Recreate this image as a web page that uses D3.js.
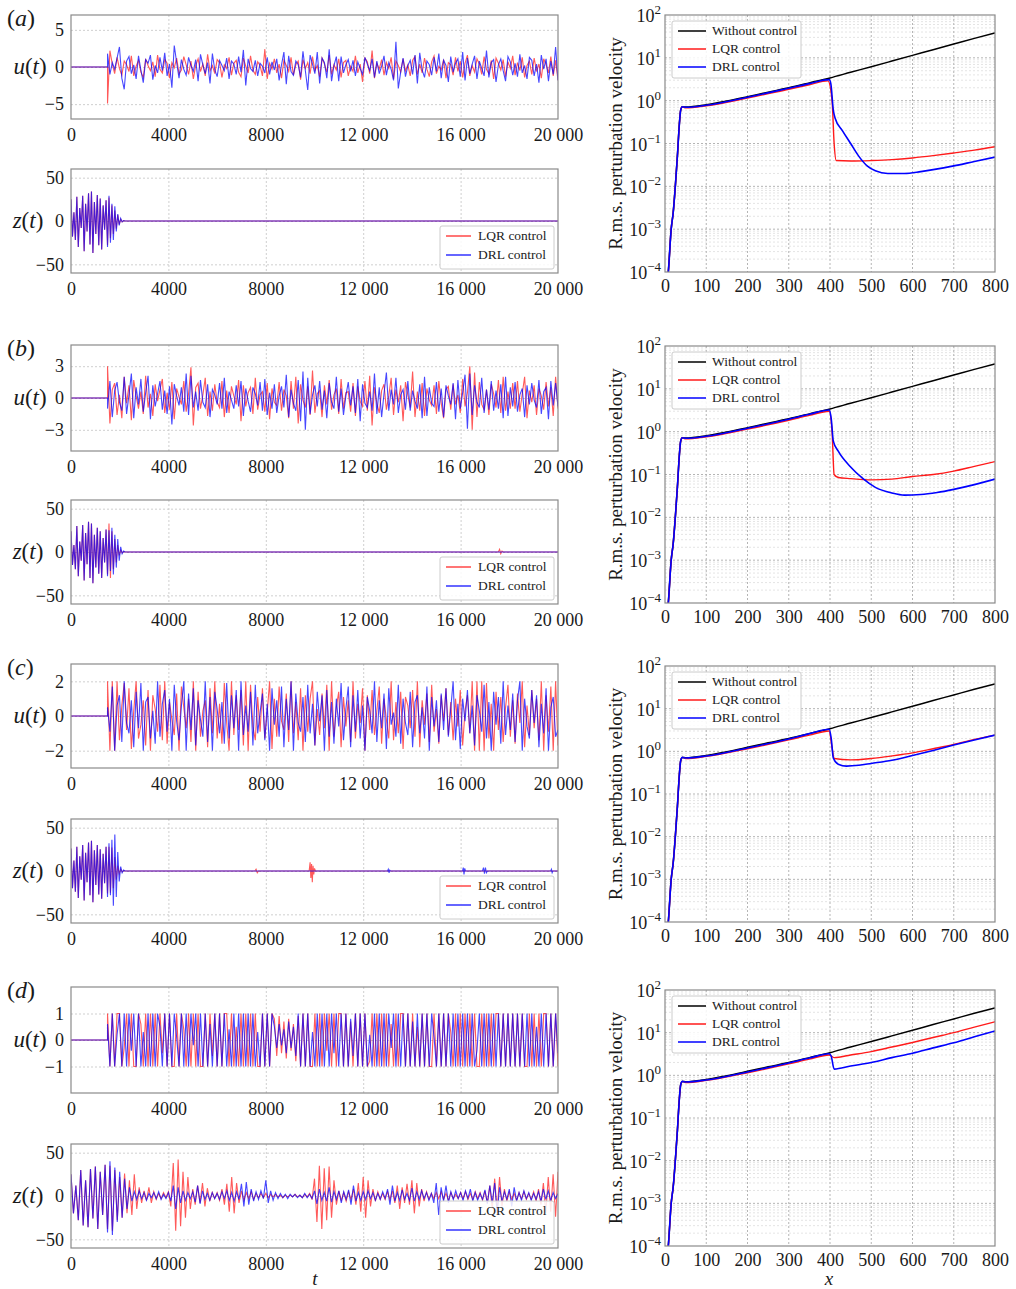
<!DOCTYPE html>
<html>
<head>
<meta charset="utf-8">
<script src="https://cdn.jsdelivr.net/npm/d3@7"></script>
<style>
  body { margin: 0; background: #fff; }
  svg { display: block; font-family: "Liberation Serif", "Times New Roman", serif; }
</style>
</head>
<body>
<svg id="fig" width="1016" height="1289"></svg>
<script>
// ---- time axis / sampling ----
const tStart = 0, tEnd = 20000, tCtrl = 1500;
const dtZ = 60, dtZd = 100;
const tTicks = [0, 4000, 8000, 12000, 16000, 20000];
const xTicks = [0, 100, 200, 300, 400, 500, 600, 700, 800];
const decades = [-4, -3, -2, -1, 0, 1, 2];
const panelNames = ['a', 'b', 'c', 'd'];
const uLimits = [7, 5, 3, 2];
const uTickVals = [[-5, 0, 5], [-3, 0, 3], [-2, 0, 2], [-1, 0, 1]];
const zLimit = 60;
const zTickVals = [-50, 0, 50];

// ---- u(t), sampled from t = 1500 to 20000 (190 samples) ----
const uLqrA = [-4.9,2.2,0.4,-0.9,1.3,-0.2,-1.1,0.8,0.3,-0.6,1.5,-1.2,0.1,0.9,-0.7,-1.4,1.1,0.2,-0.5,
 0.7,-1.3,1.6,-0.3,-0.8,1.0,0.5,-1.5,0.6,-0.1,1.2,-0.9,-0.4,1.4,0.3,-1.0,0.8,-1.6,0.2,
 1.1,-0.6,0.4,-1.2,1.7,-0.5,0.2,-0.9,1.0,0.6,-1.4,0.3,-0.2,1.3,-1.1,0.5,0.9,-0.7,-1.3,
 1.2,0.1,-0.8,1.5,-0.4,-1.0,0.7,0.2,-1.2,2.4,-1.6,0.5,-0.3,1.1,-0.8,0.4,-1.5,0.9,0.2,
 -0.6,1.3,-1.1,0.3,0.8,-1.7,1.0,-0.2,0.6,-0.9,1.4,-0.5,0.2,-1.3,1.2,0.4,-0.7,1.6,-1.0,
 0.3,-0.4,1.1,-1.4,0.6,0.9,-1.2,0.1,-0.6,1.5,-0.8,0.4,-2.0,1.2,0.7,-0.9,2.2,-1.5,0.5,
 -0.3,1.0,-1.1,0.6,-0.2,1.3,-1.6,0.8,0.2,-0.7,1.1,-0.5,0.3,-1.2,0.9,1.4,-1.0,0.4,-0.8,
 1.2,-0.3,-1.3,0.7,1.5,-0.9,0.1,-0.4,1.0,-1.5,0.6,0.3,-1.1,1.3,-0.6,0.8,-1.4,0.5,1.6,
 -1.2,0.2,-0.7,1.1,0.4,-1.0,1.4,-0.3,-0.9,0.9,-1.6,1.2,0.5,-0.4,1.0,-1.3,0.7,-0.2,1.5,
 -1.1,0.6,-0.5,1.3,-1.4,0.2,0.8,-1.0,1.2,-0.6,0.4,-1.5,1.1,0.3,-0.8,1.4,-1.2,0.9,-1.8];
const uDrlA = [1.8,-1.0,0.6,-0.3,1.2,2.7,-1.5,-3.0,0.8,1.4,-0.9,0.3,-1.6,1.5,-0.4,-2.1,1.0,0.5,1.6,
 -1.7,0.2,-0.8,1.3,-0.5,1.9,-1.2,0.4,-2.8,2.9,0.6,-1.5,1.0,-0.3,-1.1,1.3,0.2,-0.6,1.0,
 -1.9,1.7,0.3,-0.9,0.6,-2.2,1.8,-0.4,-1.3,0.9,0.2,-0.5,1.2,-1.6,0.8,0.4,-1.0,1.4,-0.7,
 2.3,-2.5,1.1,-0.2,-0.6,0.9,-1.2,0.5,0.1,-0.8,1.3,-1.0,0.7,-0.4,1.1,-1.8,0.3,2.0,-2.3,
 1.5,-0.6,-1.1,0.8,0.3,-1.4,2.1,-0.5,-3.1,1.6,0.4,-0.9,2.0,-2.2,1.2,0.6,-1.5,2.4,-1.9,
 0.2,1.4,-1.9,1.4,-0.8,0.3,1.0,-0.6,0.9,-1.2,0.7,-0.2,-1.0,1.3,0.4,-0.5,1.1,-1.4,0.8,
 -0.9,0.1,1.5,-1.1,0.6,-0.3,-1.8,3.4,-2.9,-0.7,1.2,-1.3,0.2,0.9,-1.0,1.6,-2.2,1.9,-0.4,
 -1.4,0.8,0.3,-1.1,1.3,-0.6,1.8,-1.5,0.9,0.2,-2.0,1.4,-0.7,0.5,1.1,-1.3,2.0,-1.8,1.2,
 -0.9,0.4,1.5,-1.6,0.8,-0.2,-1.2,2.2,-1.4,0.6,1.0,-2.0,0.3,1.1,-0.5,-1.9,1.4,0.7,-1.1,
 0.5,-1.3,1.7,-0.8,0.2,-1.6,1.3,0.9,-1.2,0.4,-2.1,1.6,-0.3,1.1,-1.9,0.8,-1.0,2.7,-1.8];
const uLqrB = [3.0,-2.4,0.8,1.4,-1.6,0.3,-1.9,2.0,-0.5,1.2,-2.1,1.7,0.2,-1.0,0.6,-1.5,2.1,-0.9,0.4,
 -1.7,1.3,-0.3,0.8,1.8,-1.4,0.5,-1.1,1.5,-2.0,0.9,0.1,-0.6,1.6,-1.3,0.4,2.9,-2.6,1.0,
 1.4,-1.0,0.3,1.9,-1.7,0.6,-1.2,1.3,-0.4,-0.9,1.6,-1.8,0.7,-1.4,1.1,0.2,-0.6,1.7,-2.2,
 1.2,-0.8,0.5,1.0,-1.5,1.9,-1.1,0.3,0.6,-1.3,1.4,-2.0,0.9,-0.4,-0.7,1.5,-1.2,0.8,0.2,
 -1.9,1.6,-1.0,2.0,-2.4,1.3,-0.2,-0.9,1.1,-1.6,2.6,-1.4,0.4,0.7,-1.8,1.2,-0.6,1.7,-1.1,
 0.3,0.9,-1.5,1.8,-1.0,0.5,0.6,-1.3,1.4,-1.7,1.1,-0.3,-0.8,1.6,-1.2,2.1,-2.6,1.0,-0.5,
 -1.4,0.7,1.3,-1.1,0.2,1.9,-1.6,0.8,-0.4,1.2,-2.2,1.5,0.3,-0.9,2.5,-1.8,0.6,-1.2,1.4,
 -1.7,0.9,-0.2,-0.7,1.2,-1.5,1.6,-0.5,-1.9,0.8,1.1,-1.1,1.3,-0.6,0.3,-1.4,1.8,-0.8,0.5,
 3.0,-3.0,2.4,-1.8,1.5,-0.6,-1.1,0.8,-1.6,1.3,0.4,-0.9,1.7,-1.4,2.0,-1.2,0.6,-1.0,1.4,
 -1.0,1.6,-1.3,0.4,2.0,-1.9,0.7,-0.4,1.2,-1.6,0.9,0.2,-1.1,1.5,-0.8,1.0,-1.7,2.0,-1.0];
const uDrlB = [-1.0,1.6,-1.8,0.7,1.5,-0.4,-1.2,2.0,-1.5,0.3,2.3,-1.9,1.0,-0.6,1.8,-1.3,0.5,2.1,-2.0,
 1.2,-0.8,0.4,1.6,-1.1,0.7,-1.5,1.1,-2.5,1.3,0.2,-0.7,1.0,-1.3,2.3,-1.6,2.1,-0.9,0.6,
 -1.2,1.7,-0.4,-0.9,1.3,-1.8,0.8,0.3,-0.6,1.4,-1.0,1.9,-1.4,0.6,-0.2,-1.0,1.2,-0.8,1.6,
 -1.7,0.9,-0.3,-1.3,1.0,0.4,-0.7,1.5,-1.2,1.8,-1.6,0.5,-1.0,1.3,-1.4,0.2,1.1,-0.9,2.2,
 -1.8,0.8,-0.5,-1.2,1.7,-2.2,2.5,-3.0,1.9,-1.5,0.3,1.2,-0.8,1.6,-1.1,0.7,-1.9,1.4,-0.4,
 -1.0,2.0,-1.3,0.9,-1.6,0.2,1.5,-0.7,1.1,-1.4,1.8,-2.2,1.3,-0.5,-0.9,0.6,-1.2,2.3,-1.5,
 1.0,-1.8,0.4,2.4,-1.2,0.8,-0.6,1.9,-1.4,0.3,0.8,-1.1,1.6,-1.2,0.7,-0.3,-1.0,1.3,-1.9,
 2.0,-1.7,1.0,-0.5,-0.8,1.5,-1.3,0.9,-1.8,1.2,0.2,-0.6,1.4,-2.0,1.7,-1.0,0.5,2.2,-2.9,
 2.3,-1.6,1.2,-0.4,-0.9,1.9,-1.4,0.8,-1.1,1.6,-1.2,0.7,-1.0,1.3,-1.9,2.0,-1.7,1.0,-0.8,
 1.5,-1.3,0.3,0.9,-1.8,1.2,-0.6,1.4,-0.2,-0.9,1.7,-1.5,0.6,1.0,-2.0,1.6,-0.7,1.4,-0.8];
const uLqrC = [2.0,-2.0,2.0,-2.0,2.0,-1.4,0.6,1.9,-0.8,1.6,-1.9,0.3,2.0,-1.3,-0.5,0.9,-1.7,1.5,-2.0,
 1.2,0.4,-0.9,1.8,-1.4,2.0,-1.6,0.8,-0.2,-1.1,1.3,-2.0,1.7,0.5,-0.7,1.0,-1.5,2.0,-2.0,
 1.4,-1.2,0.3,0.9,-1.8,1.6,-1.0,2.0,-1.3,0.7,-1.6,1.9,-0.4,-2.0,2.0,-1.1,1.2,-0.8,1.5,
 -1.7,2.0,-2.0,1.8,-0.6,-1.4,1.1,-0.9,1.6,-1.3,0.2,2.0,-1.9,1.0,-1.2,1.7,-0.3,-0.8,1.3,
 -1.5,2.0,-1.0,0.8,-1.4,1.6,-2.0,1.2,-0.9,1.0,2.0,-1.7,0.4,-1.1,1.3,-0.7,1.8,-2.0,2.0,
 -1.2,0.5,1.4,-1.8,1.1,-0.6,0.9,-1.5,2.0,-1.3,0.7,-0.4,1.6,-2.0,1.2,-0.8,1.5,-1.1,0.3,
 1.7,-1.6,1.0,-0.2,-1.3,2.0,-1.4,0.8,-1.0,1.4,-1.9,1.1,0.6,-0.7,1.5,-1.2,2.0,-1.8,0.9,
 -0.5,1.3,-1.5,1.8,-0.9,0.4,-1.6,1.2,-0.3,1.6,-1.1,0.8,-1.4,1.0,-0.6,1.5,-1.7,0.3,1.2,
 -1.0,2.0,-2.0,2.0,-2.0,2.0,-2.0,1.9,-1.3,0.7,-2.0,1.4,-0.8,1.1,-1.5,0.5,1.8,-1.2,0.9,
 -1.6,1.3,-0.4,2.0,-1.8,0.6,-1.1,1.5,-0.7,1.0,-1.4,2.0,-2.0,1.2,-0.9,1.7,-2.0,2.0,-1.7];
const uDrlC = [0.5,-0.9,1.7,-2.0,0.6,1.2,-1.5,2.0,-0.4,-1.0,0.9,-1.8,1.4,-0.7,1.9,-2.0,0.8,1.1,-1.3,
 0.3,-1.6,2.0,-1.2,0.7,1.5,-0.9,1.0,-2.0,1.8,-0.3,-1.4,0.6,2.0,-2.0,1.3,-0.8,1.6,-1.7,
 0.9,-0.2,-1.2,2.0,-1.5,1.1,-2.0,1.4,0.4,-1.0,0.8,-1.6,1.9,-1.3,1.2,-0.7,1.5,-2.0,2.0,
 -1.1,0.6,-0.9,1.4,-1.7,1.8,-1.0,0.2,1.3,-1.4,0.7,-2.0,1.6,-0.5,0.9,-1.2,1.7,-1.8,1.0,
 -0.8,2.0,-2.0,1.3,-0.4,-0.9,1.1,-1.5,1.8,-1.0,0.7,-1.7,1.4,-0.3,1.2,-2.0,1.5,-1.2,0.8,
 -1.6,1.0,-0.6,1.9,-1.4,0.4,1.7,-1.8,1.2,-0.9,1.5,-1.3,0.6,-2.0,1.1,0.3,-1.0,2.0,-1.5,
 0.9,-0.7,1.3,-1.9,1.6,-0.5,0.2,-1.2,1.8,-1.6,1.0,-0.4,-1.1,1.4,-1.8,0.8,1.2,-1.0,0.5,
 -1.3,1.7,-2.0,1.1,-0.6,0.9,-1.5,1.3,-0.8,1.6,-1.2,0.4,2.0,-1.4,0.7,-1.9,1.0,-0.3,1.5,
 -1.0,0.6,-1.7,1.2,0.3,-0.9,1.8,-1.3,0.8,-2.0,1.4,-0.5,1.1,-1.6,2.0,-1.1,0.6,-0.8,1.3,
 -1.5,0.9,2.0,-2.0,1.0,-0.6,-1.3,1.5,-0.4,1.2,-1.8,0.7,-1.0,1.6,-2.0,0.5,1.1,-1.2,-0.8];
const uLqrD = [1,-1,1,-1,1,1,-1,-0.3,1,-1,1,-1,-1,1,0.6,-1,1,-1,1,
 -1,1,-1,1,-0.5,1,-1,1,-1,-1,1,-1,1,0.4,-1,1,-1,1,-1,
 1,-1,-1,1,-1,1,-0.6,1,-1,1,-1,1,1,-1,1,-1,0.5,-1,1,
 -1,1,-1,1,-1,1,-1,-1,1,-1,1,-1,1,0.8,-0.6,0.9,-0.5,0.7,-0.7,
 0.8,-0.4,0.6,-0.8,0.9,-1,1,-1,1,-1,-1,1,-1,1,-1,1,-0.4,1,-1,
 1,-1,1,1,-1,1,-1,0.7,-1,1,-1,1,-1,1,-1,-0.8,1,-1,1,
 -1,1,-1,1,-1,0.6,-1,1,-1,1,1,-1,1,-1,1,-1,0.5,-1,1,
 -1,1,-1,-1,1,-1,1,-1,1,-1,1,0.3,-1,1,-1,1,-1,1,-1,
 1,-1,1,-1,-1,1,-1,1,-1,1,-1,1,1,-1,1,-1,1,-1,1,
 -1,1,-1,1,-1,-1,1,-1,1,-1,1,-1,1,1,-1,1,-1,1,-1];
const uDrlD = [0.6,-1,1,-1,0.2,1,-1,1,-1,1,-0.4,1,-1,1,-1,0.3,-1,1,-1,
 1,-1,1,0.5,-1,1,-1,1,-1,1,0.1,-1,1,-1,1,-1,1,-0.2,1,
 -1,1,-1,1,-1,0.6,-1,1,-1,1,-1,1,-1,0.4,-1,1,-1,1,-1,
 1,-1,1,-1,1,-1,0.3,-1,1,-1,1,-1,1,0.5,-0.3,0.6,-0.2,0.4,-0.5,
 0.7,-0.3,0.5,-0.6,1,-1,1,-1,1,-1,0.3,-1,1,-1,1,-1,1,-1,1,
 -0.5,1,-1,1,-1,1,-1,0.8,-0.6,1,-1,1,-1,1,-1,0.2,-1,1,-1,
 1,-1,1,-1,1,-0.3,1,-1,1,-1,1,-1,1,-1,0.7,-1,1,-1,1,
 -1,1,-1,1,0.1,-1,1,-1,1,-1,1,-1,1,-1,1,-1,1,-1,1,
 -1,1,-1,-0.4,1,-1,1,-1,1,-1,1,-1,1,-1,1,-1,1,-1,1,
 -1,1,-1,1,-1,1,-1,1,-1,0.5,-1,1,-1,1,-1,1,-1,1,-0.5];

// ---- z(t), panels a-c: before control (t = 0..1440, dt 60), after control (t = 1500..2400), later bursts [t, z] ----
const zPreA = [25,-18,10,-22,28,-30,15,-8,29,-35,20,-12,32,-27,34,-37,22,-15,30,-28,26,-33,18,-10,24];
const zLqrA = [-28,27,-20,18,-15,12,-9,7,-4,2,-1,0.5,0,0,0,0];
const zDrlA = [-30,29,-25,20,-22,17,-12,8,-5,3,-1,0.5,0,0,0,0];
const zPreB = [24,-15,8,-20,30,-28,12,-10,31,-33,22,-14,35,-30,33,-36,20,-18,28,-25,24,-30,16,-12,26];
const zLqrB = [-26,33,-30,24,-20,15,-12,8,-4,2,-1,0.5,0,0,0,0];
const zDrlB = [-28,25,-22,28,-26,20,-18,15,-10,6,-2,1,0,0,0,0];
const zPreC = [26,-20,12,-24,28,-31,17,-10,30,-34,21,-13,33,-28,35,-36,24,-16,30,-27,25,-32,20,-14,28];
const zLqrC = [-26,28,-25,27,-20,16,-10,6,-3,2,-1,0.5,0,0,0,0];
const zDrlC = [-30,32,-28,36,-40,42,-30,22,-12,5,-2,1,0,0,0,0];
const burstLqrB = [[17550,0],[17600,3],[17650,-2],[17700,1],[17750,0]];
const burstDrlB = [];
const burstLqrC = [[7550,0],[7600,2],[7650,-2],[7700,0],[9780,0],[9820,10],[9850,-8],[9880,8],[9910,-13],
 [9940,6],[9970,-4],[10000,3],[10040,0]];
const burstDrlC = [[13000,0],[13030,2],[13060,-2],[13090,1],[13120,0],[16080,0],[16110,4],[16140,-4],[16170,3],
 [16200,0],[16900,0],[16940,4],[16980,-3],[17020,4],[17060,-2],[17100,0],[19700,0],[19730,2],[19760,-2],[19790,0]];

// ---- z(t), panel d: t = 0..20000, dt 100 ----
const zLqrD = [25,-20,12,-28,30,-34,18,-36,31,-26,34,-38,28,-22,36,
 -38,35,-40,30,-28,22,-25,26,-20,18,
 -22,25,-15,10,-8,6,-5,10,-8,5,-4,3,-3,4,-2,
 5,-12,38,-40,42,-35,28,-25,22,-15,
 8,-10,12,-8,15,-12,9,-6,4,-3,
 4,-5,8,-10,14,-18,22,-20,15,-8,
 6,-5,4,-3,5,-4,3,-2,3,-2,
 3,-2,2,-1,2,-1,1,-2,1,-1,
 1,-1,2,-1,1,-2,2,-1,3,-4,
 20,-30,35,-38,32,-28,34,-25,18,-10,
 6,-5,4,-6,5,-4,8,-10,15,-18,
 22,-25,18,-12,8,-6,5,-4,3,-4,
 5,-4,6,-8,12,-15,10,-8,14,-10,
 18,-20,15,-12,8,-6,5,-4,3,-3,
 4,-3,5,-4,3,-5,4,-3,2,-3,
 4,-3,5,-4,3,-4,5,-3,4,-5,
 6,-8,12,-15,20,-18,22,-12,8,-6,
 5,-4,3,-5,4,-3,5,-4,3,-4,
 5,-6,8,-10,15,-20,22,-18,25,-24,28];
const zDrlD = [25,-20,12,-28,30,-34,18,-36,31,-26,34,-38,28,-22,36,
 -42,40,-45,33,-30,28,-25,20,-15,10,
 -6,5,-4,6,-3,4,-5,3,-2,4,-3,5,-4,2,-3,
 4,-6,12,-15,10,-8,6,-5,4,-3,
 5,-7,12,-9,6,-4,3,-5,4,-3,
 3,-4,5,-3,6,-5,4,-6,5,-4,
 14,-12,16,-10,8,-6,5,-4,6,-3,
 18,-8,6,-5,4,-3,3,-2,2,-3,
 2,-1,2,-2,1,-2,3,-2,2,-3,
 6,-9,8,-5,4,-6,10,-7,5,-4,
 6,-8,5,-4,7,-10,12,-6,4,-5,
 5,-4,6,-3,4,-5,3,-4,5,-3,
 8,-10,12,-6,4,-5,7,-4,3,-5,
 9,-6,5,-4,6,-3,4,-5,3,-8,
 15,-22,10,-6,12,-8,5,-4,6,-3,
 4,-5,6,-3,8,-6,4,-5,3,-4,
 7,-9,12,-8,15,-20,10,-6,5,-4,
 8,-12,10,-6,4,-5,6,-3,4,-5,
 3,-4,5,-6,8,-4,6,-5,4,-3,3];

// ---- r.m.s. perturbation velocity [x, value] ----
const rmsRise = [[0,1e-5],[5,5e-5],[8,1e-4],[15,1e-3],[20,2.5e-3],[25,1e-2],[30,5e-2],[35,0.3],[38,0.6],[42,0.72]];
const rmsNoCtrl = [[50,0.71],[100,0.80],[150,0.98],[200,1.24],[250,1.58],[300,2.0],[350,2.6],[400,3.4],[450,4.6],
 [500,6.2],[550,8.4],[600,11.4],[650,15.5],[700,21],[750,28.5],[800,38]];
const rmsLqrA = [[50,0.68],[100,0.76],[200,1.15],[300,1.85],[350,2.35],[395,2.9],[405,1.0],[410,0.1],[415,0.04],
 [450,0.039],[500,0.04],[550,0.042],[600,0.046],[650,0.052],[700,0.06],[750,0.07],[800,0.084]];
const rmsDrlA = [[50,0.70],[100,0.78],[200,1.2],[300,1.95],[350,2.5],[398,3.1],[402,2.5],[408,0.6],[412,0.4],
 [430,0.2],[450,0.1],[470,0.05],[490,0.03],[510,0.023],[540,0.02],[580,0.02],[620,0.022],[700,0.03],[750,0.038],[800,0.048]];
const rmsLqrB = [[50,0.68],[100,0.76],[200,1.15],[300,1.85],[350,2.4],[398,3.0],[405,1.0],[410,0.1],[420,0.085],
 [450,0.08],[500,0.075],[550,0.078],[600,0.09],[650,0.1],[700,0.12],[750,0.155],[800,0.2]];
const rmsDrlB = [[50,0.70],[100,0.78],[200,1.2],[300,1.95],[350,2.55],[398,3.2],[403,2.0],[408,0.6],[420,0.35],
 [450,0.15],[480,0.08],[510,0.05],[550,0.037],[580,0.033],[620,0.034],[660,0.038],[700,0.045],[750,0.058],[800,0.078]];
const rmsLqrC = [[50,0.68],[100,0.76],[200,1.15],[300,1.85],[350,2.4],[398,3.0],[405,1.2],[410,0.68],[450,0.63],
 [500,0.68],[550,0.78],[600,0.92],[650,1.15],[700,1.45],[750,1.9],[800,2.4]];
const rmsDrlC = [[50,0.70],[100,0.78],[200,1.2],[300,1.95],[350,2.6],[398,3.3],[403,2.0],[408,0.7],[420,0.5],
 [440,0.45],[470,0.47],[500,0.52],[550,0.62],[600,0.8],[650,1.05],[700,1.4],[750,1.85],[800,2.4]];
const rmsLqrD = [[50,0.68],[100,0.76],[200,1.15],[300,1.85],[350,2.4],[398,3.0],[410,2.6],[450,3.0],[500,3.6],
 [550,4.6],[600,5.9],[650,7.7],[700,10],[750,13.5],[800,18]];
const rmsDrlD = [[50,0.70],[100,0.78],[200,1.2],[300,1.95],[350,2.55],[398,3.2],[403,2.8],[410,1.4],[450,1.65],
 [500,2.0],[550,2.6],[600,3.3],[650,4.4],[700,5.8],[750,8],[800,11]];

// ---- layout ----
const LX0 = 71, LX1 = 558, RX0 = 665, RX1 = 995;
const rows = [
  { u: [15, 119], z: [169, 273], r: [15, 272] },
  { u: [345, 451], z: [500, 604], r: [346, 603] },
  { u: [664, 768], z: [819, 923], r: [666, 922] },
  { u: [987, 1093], z: [1144, 1248], r: [990, 1246] }
];
const RED = '#ff1a1a', BLUE = '#0000ff';
const FONT = '"Liberation Serif", "Times New Roman", serif';

const uLqr = [uLqrA, uLqrB, uLqrC, uLqrD];
const uDrl = [uDrlA, uDrlB, uDrlC, uDrlD];
const rmsLqr = [rmsLqrA, rmsLqrB, rmsLqrC, rmsLqrD];
const rmsDrl = [rmsDrlA, rmsDrlB, rmsDrlC, rmsDrlD];

const svg = d3.select('#fig');
const defs = svg.append('defs');
let clipCount = 0;
function clip(x0, y0, x1, y1) {
  const id = 'clip' + (clipCount++);
  defs.append('clipPath').attr('id', id).append('rect')
    .attr('x', x0).attr('y', y0).attr('width', x1 - x0).attr('height', y1 - y0);
  return `url(#${id})`;
}
function frame(g, x0, y0, x1, y1) {
  g.append('rect').attr('x', x0).attr('y', y0).attr('width', x1 - x0).attr('height', y1 - y0)
    .attr('fill', 'none').attr('stroke', '#8a8a8a').attr('stroke-width', 1.2);
}
function styleAxis(a) {
  a.attr('font-family', FONT).attr('font-size', 18);
  a.select('.domain').remove();
  a.selectAll('text').attr('fill', '#1a1a1a');
}
const fmtT = t => t >= 10000 ? `${Math.floor(t / 1000)} 000` : String(t);
const fmtY = d3.format('');

// u(t) series: flat zero until control starts, then sampled values
function uPoints(vals) {
  const dt = (tEnd - tCtrl) / (vals.length - 1);
  return [[tStart, 0], [tCtrl, 0]].concat(vals.map((v, i) => [tCtrl + i * dt, v]));
}
function zPoints(pre, post, bursts) {
  const pts = pre.map((v, i) => [i * dtZ, v]).concat(post.map((v, i) => [tCtrl + i * dtZ, v]));
  return pts.concat(bursts, [[tEnd, 0]]);
}
function zDense(vals) { return vals.map((v, i) => [i * dtZd, v]); }

function timePanel(y0, y1, lim, ticks, lqrPts, drlPts, withLegend) {
  const x = d3.scaleLinear().domain([tStart, tEnd]).range([LX0, LX1]);
  const y = d3.scaleLinear().domain([-lim, lim]).range([y1, y0]);
  const g = svg.append('g');
  // grid
  g.append('g').attr('transform', `translate(0,${y0})`)
    .call(d3.axisBottom(x).tickValues(tTicks.slice(1, -1)).tickSize(y1 - y0).tickFormat(''))
    .call(a => a.select('.domain').remove())
    .call(a => a.selectAll('line').attr('stroke', '#cfcfcf').attr('stroke-dasharray', '2,2'));
  g.append('g').attr('transform', `translate(${LX0},0)`)
    .call(d3.axisRight(y).tickValues(ticks).tickSize(LX1 - LX0).tickFormat(''))
    .call(a => a.select('.domain').remove())
    .call(a => a.selectAll('line').attr('stroke', '#cfcfcf').attr('stroke-dasharray', '2,2'));
  // tick labels
  g.append('g').attr('transform', `translate(0,${y1})`)
    .call(d3.axisBottom(x).tickValues(tTicks).tickSize(0).tickPadding(9).tickFormat(fmtT))
    .call(styleAxis);
  g.append('g').attr('transform', `translate(${LX0},0)`)
    .call(d3.axisLeft(y).tickValues(ticks).tickSize(0).tickPadding(7).tickFormat(fmtY))
    .call(styleAxis);
  // lines
  const line = d3.line().x(d => x(d[0])).y(d => y(d[1]));
  const lg = g.append('g').attr('clip-path', clip(LX0, y0, LX1, y1));
  lg.append('path').datum(lqrPts).attr('d', line).attr('fill', 'none')
    .attr('stroke', RED).attr('stroke-opacity', 0.72).attr('stroke-width', 1.1);
  lg.append('path').datum(drlPts).attr('d', line).attr('fill', 'none')
    .attr('stroke', BLUE).attr('stroke-opacity', 0.72).attr('stroke-width', 1.1);
  frame(g, LX0, y0, LX1, y1);
  if (withLegend) {
    const lx = 440, ly = y1 - 47;
    const lgd = g.append('g');
    lgd.append('rect').attr('x', lx).attr('y', ly).attr('width', 114).attr('height', 43).attr('rx', 2)
      .attr('fill', '#fff').attr('fill-opacity', 0.85).attr('stroke', '#cccccc');
    [['LQR control', RED], ['DRL control', BLUE]].forEach(([name, c], i) => {
      const yy = ly + 10 + i * 19;
      lgd.append('line').attr('x1', lx + 6).attr('x2', lx + 31).attr('y1', yy).attr('y2', yy)
        .attr('stroke', c).attr('stroke-opacity', 0.8).attr('stroke-width', 1.5);
      lgd.append('text').attr('x', lx + 38).attr('y', yy + 4).attr('font-size', 13.5)
        .attr('fill', '#222').text(name);
    });
  }
}

function rmsPanel(y0, y1, lqr, drl) {
  const x = d3.scaleLinear().domain([0, 800]).range([RX0, RX1]);
  const y = d3.scaleLog().domain([1e-4, 1e2]).range([y1, y0]);
  const g = svg.append('g');
  // minor grid
  const minor = [];
  decades.slice(0, -1).forEach(k => { for (let m = 2; m <= 9; m++) minor.push(m * Math.pow(10, k)); });
  g.append('g').selectAll('line').data(minor).join('line')
    .attr('x1', RX0).attr('x2', RX1).attr('y1', d => y(d)).attr('y2', d => y(d))
    .attr('stroke', '#dddddd').attr('stroke-width', 0.8).attr('stroke-dasharray', '2,2');
  g.append('g').selectAll('line').data(decades.slice(1, -1).map(k => Math.pow(10, k))).join('line')
    .attr('x1', RX0).attr('x2', RX1).attr('y1', d => y(d)).attr('y2', d => y(d))
    .attr('stroke', '#b5b5b5').attr('stroke-dasharray', '2,2');
  g.append('g').selectAll('line').data(xTicks.slice(1, -1)).join('line')
    .attr('x1', d => x(d)).attr('x2', d => x(d)).attr('y1', y0).attr('y2', y1)
    .attr('stroke', '#b5b5b5').attr('stroke-dasharray', '2,2');
  // x tick labels
  g.append('g').attr('transform', `translate(0,${y1})`)
    .call(d3.axisBottom(x).tickValues(xTicks).tickSize(0).tickPadding(7).tickFormat(d3.format('d')))
    .call(styleAxis);
  // y tick labels 10^k
  const yl = g.append('g').attr('font-size', 18).attr('fill', '#1a1a1a');
  decades.forEach(k => {
    const t = yl.append('text').attr('x', RX0 - 4).attr('y', y(Math.pow(10, k)) + 7).attr('text-anchor', 'end');
    t.append('tspan').text('10');
    t.append('tspan').attr('dy', -8).attr('font-size', 13).text(k < 0 ? '\u2212' + (-k) : String(k));
  });
  // lines
  const line = d3.line().x(d => x(d[0])).y(d => y(d[1])).curve(d3.curveMonotoneX);
  const lg = g.append('g').attr('clip-path', clip(RX0, y0, RX1, y1));
  [[rmsNoCtrl, '#000', 1.5], [lqr, RED, 1.4], [drl, BLUE, 1.6]].forEach(([s, c, w]) => {
    lg.append('path').datum(rmsRise.concat(s)).attr('d', line).attr('fill', 'none')
      .attr('stroke', c).attr('stroke-width', w);
  });
  frame(g, RX0, y0, RX1, y1);
  // legend
  const lx = 672, ly = y0 + 6;
  const lgd = g.append('g');
  lgd.append('rect').attr('x', lx).attr('y', ly).attr('width', 129).attr('height', 57).attr('rx', 2)
    .attr('fill', '#fff').attr('fill-opacity', 0.85).attr('stroke', '#cccccc');
  [['Without control', '#000'], ['LQR control', RED], ['DRL control', BLUE]].forEach(([name, c], i) => {
    const yy = ly + 10 + i * 18;
    lgd.append('line').attr('x1', lx + 6).attr('x2', lx + 34).attr('y1', yy).attr('y2', yy)
      .attr('stroke', c).attr('stroke-width', 1.5);
    lgd.append('text').attr('x', lx + 40).attr('y', yy + 4).attr('font-size', 13.5)
      .attr('fill', '#222').text(name);
  });
  // axis title
  svg.append('text').attr('transform', `translate(622,${(y0 + y1) / 2}) rotate(-90)`)
    .attr('text-anchor', 'middle').attr('font-size', 19).attr('fill', '#1a1a1a')
    .text('R.m.s. perturbation velocity');
}

function fnLabel(xc, yc, v) {
  const t = svg.append('text').attr('x', xc).attr('y', yc + 7).attr('text-anchor', 'middle')
    .attr('font-size', 23).attr('fill', '#1a1a1a');
  t.append('tspan').attr('font-style', 'italic').text(v);
  t.append('tspan').text('(');
  t.append('tspan').attr('font-style', 'italic').text('t');
  t.append('tspan').text(')');
}

const zPre = [zPreA, zPreB, zPreC];
const zLqr = [zLqrA, zLqrB, zLqrC];
const zDrl = [zDrlA, zDrlB, zDrlC];
const burstLqr = [[], burstLqrB, burstLqrC];
const burstDrl = [[], burstDrlB, burstDrlC];

rows.forEach((r, i) => {
  timePanel(r.u[0], r.u[1], uLimits[i], uTickVals[i], uPoints(uLqr[i]), uPoints(uDrl[i]), false);
  const zl = i < 3 ? zPoints(zPre[i], zLqr[i], burstLqr[i]) : zDense(zLqrD);
  const zd = i < 3 ? zPoints(zPre[i], zDrl[i], burstDrl[i]) : zDense(zDrlD);
  timePanel(r.z[0], r.z[1], zLimit, zTickVals, zl, zd, true);
  rmsPanel(r.r[0], r.r[1], rmsLqr[i], rmsDrl[i]);
  fnLabel(30, (r.u[0] + r.u[1]) / 2, 'u');
  fnLabel(28, (r.z[0] + r.z[1]) / 2, 'z');
  const pl = svg.append('text').attr('x', 7).attr('y', r.u[0] + 11).attr('font-size', 24).attr('fill', '#1a1a1a');
  pl.append('tspan').text('(');
  pl.append('tspan').attr('font-style', 'italic').text(panelNames[i]);
  pl.append('tspan').text(')');
});

svg.append('text').attr('x', 315).attr('y', 1285).attr('text-anchor', 'middle')
  .attr('font-size', 19).attr('font-style', 'italic').attr('fill', '#1a1a1a').text('t');
svg.append('text').attr('x', 829).attr('y', 1285).attr('text-anchor', 'middle')
  .attr('font-size', 19).attr('font-style', 'italic').attr('fill', '#1a1a1a').text('x');
</script>
</body>
</html>
